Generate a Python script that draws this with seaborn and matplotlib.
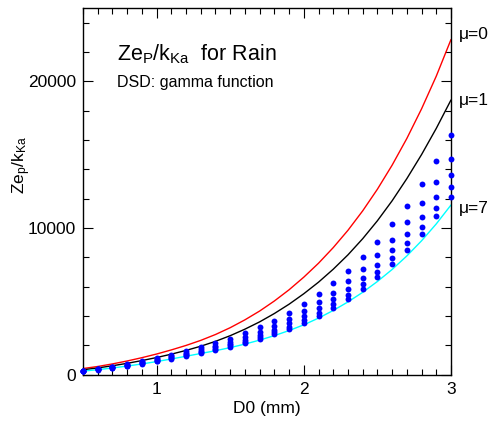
import numpy as np
import pandas as pd
import matplotlib
matplotlib.use("Agg")
import matplotlib.pyplot as plt
from matplotlib.ticker import MultipleLocator
import seaborn as sns

# ---------------- data ----------------
d0 = [0.5, 0.6, 0.7, 0.8, 0.9, 1.0, 1.1, 1.2, 1.3, 1.4, 1.5, 1.6, 1.7, 1.8,
      1.9, 2.0, 2.1, 2.2, 2.3, 2.4, 2.5, 2.6, 2.7, 2.8, 2.9, 3.0]

# curves
mu0 = [420, 560, 735, 935, 1160, 1410, 1690, 1995, 2340, 2740, 3205, 3740,
       4340, 5025, 5790, 6650, 7600, 8665, 9845, 11170, 12645, 14285, 16105,
       18125, 20355, 22850]
mu1 = [336, 460, 610, 775, 963, 1170, 1400, 1656, 1942, 2274, 2660, 3104,
       3602, 4171, 4806, 5520, 6308, 7192, 8171, 9271, 10495, 11857, 13367,
       15007, 16793, 18730]
mu7 = [245, 343, 458, 588, 733, 895, 1072, 1258, 1447, 1635, 1847, 2087,
       2358, 2664, 3010, 3400, 3859, 4379, 4961, 5617, 6354, 7174, 8097,
       9130, 10282, 11570]

# dots (intermediate shape parameters)
mu2 = [282, 402, 548, 715, 906, 1116, 1352, 1607, 1884, 2155, 2457, 2817,
       3220, 3678, 4207, 4797, 5524, 6228, 7069, 8001, 9069, 10251, 11535,
       12977, 14568, 16340]
mu3 = [271, 383, 519, 674, 849, 1042, 1258, 1489, 1736, 1978, 2247, 2564,
       2920, 3323, 3788, 4342, 4956, 5592, 6365, 7183, 8137, 9205, 10387,
       11700, 13140, 14704]
mu4 = [263, 370, 499, 645, 809, 991, 1192, 1406, 1633, 1855, 2101, 2387,
       2710, 3076, 3496, 3979, 4547, 5183, 5842, 6615, 7501, 8478, 9569,
       10773, 12114, 13613]
mu5 = [257, 361, 484, 623, 779, 953, 1144, 1346, 1557, 1764, 1993, 2257,
       2556, 2894, 3281, 3729, 4229, 4820, 5433, 6183, 7024, 7933, 8955,
       10091, 11375, 12773]
mu6 = [252, 353, 472, 606, 755, 922, 1104, 1296, 1495, 1690, 1905, 2150,
       2430, 2745, 3105, 3502, 4002, 4569, 5183, 5865, 6637, 7524, 8501,
       9580, 10796, 12137]

curve_names = ["μ=0", "μ=1", "μ=7"]
curve_colors = ["#ff0000", "#000000", "#00ffff"]
xticks = [1, 2, 3]
yticks = [0, 10000, 20000]

# ---------------- tables ----------------
curves = pd.DataFrame({
    "D0": d0 * 3,
    "val": mu0 + mu1 + mu7,
    "mu": [curve_names[0]] * len(d0) + [curve_names[1]] * len(d0) + [curve_names[2]] * len(d0),
})
dots = pd.DataFrame({
    "D0": d0 * 5,
    "val": mu2 + mu3 + mu4 + mu5 + mu6,
})

# ---------------- style ----------------
sns.set_style("ticks")
plt.rcParams["font.family"] = ["Liberation Sans", "DejaVu Sans"]
plt.rcParams["mathtext.default"] = "regular"
plt.rcParams["text.color"] = "black"
plt.rcParams["axes.labelcolor"] = "black"
plt.rcParams["xtick.color"] = "black"
plt.rcParams["ytick.color"] = "black"

fig = plt.figure(figsize=(5.01, 4.25), dpi=100)
ax = fig.add_axes([83 / 501, 1 - 374.7 / 425, (451 - 83) / 501, (374.7 - 8) / 425])

sns.lineplot(data=curves, x="D0", y="val", hue="mu", palette=curve_colors,
             hue_order=curve_names, linewidth=1.0, legend=False, ax=ax,
             estimator=None, sort=True)
sns.scatterplot(data=dots, x="D0", y="val", color="#0000ff", s=18,
                linewidth=0, legend=False, ax=ax, clip_on=False, zorder=3)

ax.set_xlim(0.5, 3.0)
ax.set_ylim(0, 25000)
ax.set_xticks(xticks)
ax.set_xticklabels([str(t) for t in xticks])
ax.set_yticks(yticks)
ax.set_yticklabels([str(t) for t in yticks])
ax.xaxis.set_minor_locator(MultipleLocator(0.1))
ax.yaxis.set_minor_locator(MultipleLocator(2000))
ax.tick_params(which="both", direction="in", top=True, right=True,
               labelsize=12.5, color="black", width=0.8, labelcolor="black")
ax.tick_params(which="major", length=7, pad=5)
ax.tick_params(which="minor", length=4.5)
for s in ax.spines.values():
    s.set_linewidth(1.0)
    s.set_color("black")

ax.set_xlabel("D0 (mm)", fontsize=12.5, labelpad=3, color="black")
ax.set_ylabel("")
fig.text(22 / 501, 1 - 165 / 425, "Ze$_p$/k$_{Ka}$", rotation=90,
         ha="center", va="center", fontsize=12.5, color="black")

# annotation text
ax.text(117 / 501, 1 - 54 / 425, "Ze$_P$/k$_{Ka}$  for Rain", transform=fig.transFigure,
        fontsize=15.5, ha="left", va="center", color="black")
ax.text(117 / 501, 1 - 82 / 425, "DSD: gamma function", transform=fig.transFigure,
        fontsize=11.5, ha="left", va="center", color="black")

# curve labels
for name, yp in zip(curve_names, [34, 100, 208]):
    fig.text(459 / 501, 1 - yp / 425, name, fontsize=12.5, ha="left",
             va="center", color="black")

fig.savefig("out.png", dpi=100)
